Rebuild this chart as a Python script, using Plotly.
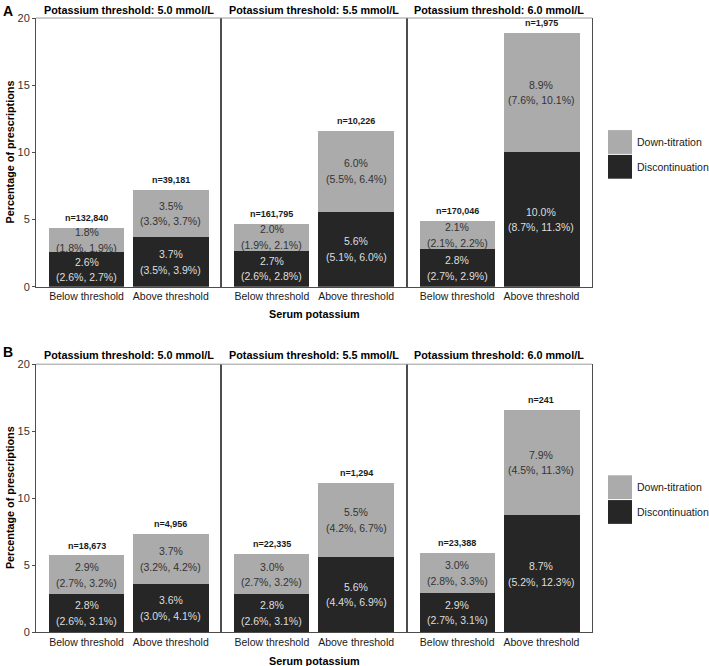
import plotly.graph_objects as go

# ---------------- data ----------------
thresholds = ["5.0", "5.5", "6.0"]
categories = ["Below threshold", "Above threshold"]

A_disc_pct = [2.6, 3.7, 2.7, 5.6, 2.8, 10.0]
A_disc_lo = [2.6, 3.5, 2.6, 5.1, 2.7, 8.7]
A_disc_hi = [2.7, 3.9, 2.8, 6.0, 2.9, 11.3]
A_down_pct = [1.8, 3.5, 2.0, 6.0, 2.1, 8.9]
A_down_lo = [1.8, 3.3, 1.9, 5.5, 2.1, 7.6]
A_down_hi = [1.9, 3.7, 2.1, 6.4, 2.2, 10.1]
A_n = [132840, 39181, 161795, 10226, 170046, 1975]

B_disc_pct = [2.8, 3.6, 2.8, 5.6, 2.9, 8.7]
B_disc_lo = [2.6, 3.0, 2.6, 4.4, 2.7, 5.2]
B_disc_hi = [3.1, 4.1, 3.1, 6.9, 3.1, 12.3]
B_down_pct = [2.9, 3.7, 3.0, 5.5, 3.0, 7.9]
B_down_lo = [2.7, 3.2, 2.7, 4.2, 2.8, 4.5]
B_down_hi = [3.2, 4.2, 3.2, 6.7, 3.3, 11.3]
B_n = [18673, 4956, 22335, 1294, 23388, 241]

y_ticks = [0, 5, 10, 15, 20]

# ---------------- layout helpers ----------------
W, H = 709, 666
L, R, T, B = 36, 117, 13, 34
PW, PH = W - L - R, H - T - B
FONT = "Liberation Sans, Arial, sans-serif"
DARK = "#262626"
LIGHT = "#ababab"


def px_x(x):
    return (x - L) / PW


def px_y(y):
    return (H - B - y) / PH


panels = [
    dict(label="A", disc=A_disc_pct, dlo=A_disc_lo, dhi=A_disc_hi,
         down=A_down_pct, wlo=A_down_lo, whi=A_down_hi, n=A_n,
         top=13, bottom=284, label_y=6, title_y=5, xtitle_y=311,
         leg=(126, 150, 151, 175)),
    dict(label="B", disc=B_disc_pct, dlo=B_disc_lo, dhi=B_disc_hi,
         down=B_down_pct, wlo=B_down_lo, whi=B_down_hi, n=B_n,
         top=362, bottom=632, label_y=350, title_y=353, xtitle_y=661,
         leg=(474, 498, 499, 523)),
]

fig = go.Figure()
annotations = []
shapes = []
layout = {}

for p, P in enumerate(panels):
    ydom = [px_y(P["bottom"]), px_y(P["top"])]
    for f in range(3):
        k = p * 3 + f + 1
        xname = "x" if k == 1 else f"x{k}"
        yname = "y" if k == 1 else f"y{k}"
        xkey = "xaxis" if k == 1 else f"xaxis{k}"
        ykey = "yaxis" if k == 1 else f"yaxis{k}"
        i0, i1 = 2 * f, 2 * f + 2
        disc = P["disc"][i0:i1]
        down = P["down"][i0:i1]
        fig.add_trace(go.Bar(x=categories, y=disc, width=0.9, marker_color=DARK,
                             marker_line_width=0, xaxis=xname, yaxis=yname,
                             showlegend=False, hoverinfo="skip"))
        fig.add_trace(go.Bar(x=categories, y=down, width=0.9, marker_color=LIGHT,
                             marker_line_width=0, xaxis=xname, yaxis=yname,
                             showlegend=False, hoverinfo="skip"))
        layout[xkey] = dict(domain=[f / 3, (f + 1) / 3], anchor=yname, type="category",
                            range=[-0.6, 1.6], showgrid=False, zeroline=False,
                            showline=True, linecolor="#4d4d4d", linewidth=1,
                            ticks="", tickfont=dict(family=FONT, size=10.5, color="#1a1a1a"),
                            ticklabelstandoff=0)
        layout[ykey] = dict(domain=ydom, anchor=xname, range=[0, 20], showgrid=False,
                            zeroline=False, showline=True, mirror=True,
                            linecolor="#4d4d4d", linewidth=1,
                            tickvals=y_ticks,
                            ticks="outside" if f == 0 else "", ticklen=3,
                            tickcolor="#4d4d4d",
                            showticklabels=(f == 0),
                            tickfont=dict(family=FONT, size=11, color="#333333"))
        # top border of each facet (lighter)
        shapes.append(dict(type="line", xref=f"{xname} domain", yref=f"{yname} domain",
                           x0=0, x1=1, y0=1, y1=1, line=dict(color="#9a9a9a", width=1)))
        # segment labels
        for j, cat in enumerate(categories):
            idx = i0 + j
            segs = [
                (0, P["disc"][idx], P["dlo"][idx], P["dhi"][idx], "#dedede"),
                (P["disc"][idx], P["down"][idx], P["wlo"][idx], P["whi"][idx], "#333333"),
            ]
            for base, val, lo, hi, col in segs:
                mid = base + val / 2
                annotations.append(dict(x=cat, y=mid, xref=xname, yref=yname,
                                        text=f"{val:.1f}%", showarrow=False, yshift=7.8,
                                        font=dict(family=FONT, size=10.5, color=col)))
                annotations.append(dict(x=cat, y=mid, xref=xname, yref=yname,
                                        text=f"({lo:.1f}%, {hi:.1f}%)", showarrow=False,
                                        yshift=-7.8,
                                        font=dict(family=FONT, size=10.5, color=col)))
            total = P["disc"][idx] + P["down"][idx]
            annotations.append(dict(x=cat, y=total, xref=xname, yref=yname,
                                    text=f"<b>n={P['n'][idx]:,}</b>", showarrow=False,
                                    yanchor="bottom", yshift=3,
                                    font=dict(family=FONT, size=9, color="#1a1a1a")))
        # facet title
        annotations.append(dict(x=(f + 0.5) / 3, y=px_y(P["title_y"]), xref="paper", yref="paper",
                                text=f"<b>Potassium threshold: {thresholds[f]} mmol/L</b>",
                                showarrow=False, xanchor="center", yanchor="middle",
                                font=dict(family=FONT, size=10.8, color="#000000")))
    # panel label
    annotations.append(dict(x=px_x(1), y=px_y(P["label_y"]), xref="paper", yref="paper",
                            text=f"<b>{P['label']}</b>", showarrow=False,
                            xanchor="left", yanchor="middle",
                            font=dict(family=FONT, size=14, color="#000000")))
    # y title
    annotations.append(dict(x=px_x(10), y=(ydom[0] + ydom[1]) / 2, xref="paper", yref="paper",
                            text="<b>Percentage of prescriptions</b>", showarrow=False,
                            textangle=-90, xanchor="center", yanchor="middle",
                            font=dict(family=FONT, size=10.8, color="#000000")))
    # x title
    annotations.append(dict(x=0.5, y=px_y(P["xtitle_y"]), xref="paper", yref="paper",
                            text="<b>Serum potassium</b>", showarrow=False,
                            xanchor="center", yanchor="middle",
                            font=dict(family=FONT, size=10.8, color="#000000")))
    # legend
    a0, a1, b0, b1 = P["leg"]
    for (y0, y1, col, name) in [(a0, a1, LIGHT, "Down-titration"), (b0, b1, DARK, "Discontinuation")]:
        shapes.append(dict(type="rect", xref="paper", yref="paper",
                           x0=px_x(608), x1=px_x(632), y0=px_y(y1), y1=px_y(y0),
                           fillcolor=col, line=dict(width=0)))
        annotations.append(dict(x=px_x(635), y=px_y((y0 + y1) / 2), xref="paper", yref="paper",
                                text=name, showarrow=False, xanchor="left", yanchor="middle",
                                font=dict(family=FONT, size=10.5, color="#1a1a1a")))

fig.update_layout(
    width=W, height=H,
    margin=dict(l=L, r=R, t=T, b=B),
    barmode="stack",
    bargap=0,
    plot_bgcolor="white", paper_bgcolor="white",
    showlegend=False,
    annotations=annotations,
    shapes=shapes,
    font=dict(family=FONT),
    **layout,
)

fig.write_html("out.html", config={"displayModeBar": False},
               post_script="document.body.style.margin='0';")
